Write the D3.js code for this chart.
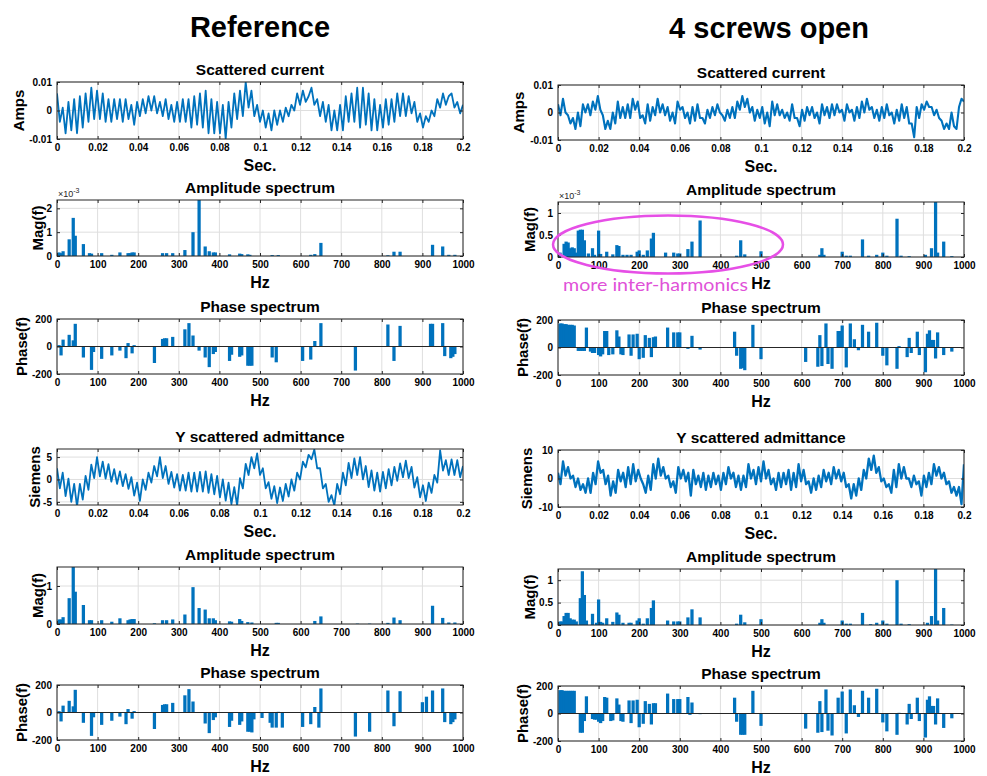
<!doctype html>
<html>
<head>
<meta charset="utf-8">
<style>
  body { margin: 0; background: #fff; }
  svg text { font-family: "Liberation Sans", Arial, sans-serif; font-weight: bold; fill: #000; }
</style>
<script src="https://d3js.org/d3.v7.min.js"></script>
</head>
<body>
<svg width="987" height="776"></svg>
<script>
// ---- tick labels ----
var timeTicks = [0, 0.02, 0.04, 0.06, 0.08, 0.1, 0.12, 0.14, 0.16, 0.18, 0.2];
var hzTicks = [0, 100, 200, 300, 400, 500, 600, 700, 800, 900, 1000];
var ampTicksA = [-0.01, 0, 0.01];
var phaseTicks = [-200, 0, 200];

// ---- time signals (sampled evenly over 0..0.2 s) ----
// scattered current, reference, in mA
var refCurrent = [6,-4,1,-8,3,-7,4,-8,5,-6,6,-4,8,-3,7,-3,6,-4,4,-4,4,-3,4,-4,4,-3,2,-5,3,-2,4,-1,5,0,5,-1,3,-2,4,-3,2,-4,3,-4,4,-4,4,-6,5,-5,6,-6,7,-8,4,-8,3,-8,2,-10,3,-6,6,-3,7,-2,10,1,7,-2,2,-4,0,-6,-1,-7,0,-5,0,-4,1,-2,2,0,6,2,7,3,5,8,2,4,-2,3,-4,2,-7,0,-7,2,-7,5,-4,6,-4,8,-6,8,-5,6,-7,4,-7,2,-6,4,-5,4,-4,6,-2,6,-2,5,-1,3,-4,-1,-6,-2,-4,0,-2,4,1,6,2,5,6,1,3,-1,2];
// scattered current, 4 screws open, in mA
var openCurrent = [3,-1,5,0,-1,-4,-2,-6,0,-5,3,0,3,-1,4,1,6,1,-1,-6,-3,-6,0,-4,4,-2,2,-2,3,-2,5,1,4,-2,-1,-4,3,-3,2,-1,5,0,3,-1,2,-3,0,-4,4,1,2,-2,0,-4,2,-3,3,-2,-2,-4,1,-2,2,-1,3,0,-1,-3,1,-2,2,-2,4,1,6,2,5,0,2,-3,1,-2,2,-4,0,-5,4,-1,3,-1,1,-2,0,-3,3,-2,-2,-5,1,-3,2,-1,2,-2,0,-4,3,-1,2,-2,3,-1,3,0,1,-3,3,0,1,-3,2,-2,4,0,5,1,2,-2,1,-3,2,-2,3,-1,0,-4,1,-3,3,-2,2,-4,-4,-9,2,-2,3,1,4,2,2,-1,1,-2,-3,-6,-4,-6,0,-5,-6,2,5,4];
// Y scattered admittance, reference, Siemens
var refAdmit = [2.5,-2,1.5,-3.7,0.2,-5,-1,-6,-1,-4.5,0.8,-2.3,3.3,0.3,5,0.7,4,0.2,3.4,-0.5,2.3,-1,1.8,-1.5,1.2,-2.1,0.5,-3.6,-0.7,-4.8,0,-2.3,1.5,-0.7,3,0.7,5,0.3,3,-1,1.7,-1.8,1.2,-2.5,1,-2.5,1.5,-2.7,1.5,-2.7,1.7,-2.7,1.8,-3,1.2,-3.3,0.8,-4,0,-4.7,-0.7,-5.5,-1.7,-5.8,0.3,-2,3.5,1,5,2.5,5.8,1,2.5,-2,-0.6,-4.3,-1.5,-5.3,-1.8,-4.8,-1,-3.8,0,-2.5,1.5,0,4,2.7,5.5,4.5,6.7,2.5,2.5,-2,-1,-5,-3.5,-5.8,-1,-3.3,1.5,-1.3,3.7,0.3,4.7,1,5,0,3,-1.7,2,-2.5,1.5,-2.7,1.7,-2,2.3,-1.3,2.8,-0.3,3.6,0.5,4.2,0.3,2.8,-1.8,0.5,-4,-1.3,-4.8,-0.7,-3,1,-0.7,6.5,2,4.3,1,4.5,1,4.3,0.5,3];
// Y scattered admittance, 4 screws open, Siemens
var openAdmit = [2,-2,6,1,4,0,1,-3,0,-4,-2,-5,0,-5,2,-2,6,2,3,-2,1,-6,-1,-5,3,-1,2,-3,4,-2,5,-1,3,0,-2,-5,1,-4,5,0,7,1,4,0,1,-3,-1,-5,4,0,3,-1,2,-6,3,-2,1,-3,2,-4,1,-3,2,-2,1,-4,2,-2,4,0,2,-3,1,-4,1,-3,5,0,3,-2,4,-1,6,0,3,-2,0,-4,2,-3,2,-2,3,-4,2,-3,5,-1,3,-2,-1,-5,0,-4,1,-3,3,-1,2,-2,4,0,3,-1,2,-3,-2,-7,-2,-6,0,-4,3,0,7,3,8,2,4,-1,0,-3,-2,-5,3,-3,5,0,4,0,0,-3,1,-2,-1,-6,1,-3,2,-2,5,1,4,0,2,-2,-1,-5,-3,-6,-3,-9,5];

// ---- spectra: [Hz, value] ----
var refCurAmp = [[5,0.15],[10,0.12],[15,0.2],[30,0.7],[40,1.6],[45,0.85],[65,0.5],[80,0.12],[85,0.1],[110,0.12],[135,0.05],[155,0.15],[175,0.12],[180,0.12],[185,0.15],[190,0.15],[260,0.12],[270,0.12],[285,0.12],[315,0.25],[335,1.0],[350,2.35],[365,0.4],[375,0.2],[385,0.15],[390,0.15],[425,0.07],[450,0.1],[455,0.08],[470,0.07],[475,0.05],[530,0.04],[545,0.04],[625,0.05],[635,0.08],[650,0.55],[815,0.03],[830,0.18],[845,0.18],[925,0.47],[950,0.4],[965,0.05],[980,0.05]];
var refCurPhase = [[5,10],[10,-65],[15,50],[30,85],[40,45],[45,165],[65,-80],[85,-170],[90,-40],[110,-90],[135,-65],[155,-30],[170,-85],[175,25],[185,-50],[190,10],[240,-120],[260,55],[265,60],[270,60],[285,70],[315,125],[325,170],[335,80],[350,-30],[365,-80],[375,-150],[385,-55],[390,-40],[425,-105],[430,-60],[450,-75],[455,-65],[470,-140],[475,-140],[480,-140],[530,-80],[540,-115],[605,-105],[625,-95],[635,40],[650,170],[735,-175],[815,160],[830,-105],[845,150],[920,165],[925,165],[950,170],[955,-70],[970,-85],[975,-75],[980,-55]];
var refAdmAmp = [[5,0.12],[10,0.12],[15,0.18],[30,0.68],[40,1.5],[45,0.85],[65,0.5],[80,0.1],[85,0.1],[110,0.1],[135,0.06],[155,0.15],[175,0.1],[180,0.12],[185,0.13],[190,0.13],[240,0.02],[260,0.1],[270,0.1],[285,0.12],[315,0.25],[335,0.97],[350,0.42],[365,0.38],[375,0.15],[385,0.15],[390,0.1],[425,0.07],[430,0.06],[450,0.13],[455,0.08],[470,0.05],[480,0.04],[540,0.03],[545,0.03],[635,0.08],[650,0.2],[740,0.01],[770,0.01],[815,0.03],[830,0.17],[845,0.1],[925,0.48],[950,0.16],[965,0.04],[980,0.04]];
var refAdmPhase = [[5,10],[10,-65],[15,50],[30,85],[40,45],[45,165],[65,-75],[85,-170],[90,-35],[110,-90],[135,-60],[155,-30],[170,-85],[175,25],[185,-45],[190,10],[240,-120],[260,55],[265,60],[270,60],[285,70],[315,125],[325,170],[335,80],[365,-80],[375,-150],[385,-55],[390,-35],[425,-105],[430,-60],[450,-90],[455,-65],[470,-140],[475,-140],[480,-145],[485,-50],[505,-40],[525,-75],[530,-110],[540,-110],[545,5],[555,-110],[605,-105],[625,-85],[635,40],[645,-110],[650,175],[735,-175],[770,-140],[815,160],[830,-100],[845,155],[900,75],[910,115],[925,160],[950,175],[955,-70],[970,-85],[975,-70],[980,-50]];
var openCurAmp = [[5,0.1],[15,0.3],[20,0.35],[25,0.33],[30,0.2],[35,0.22],[40,0.2],[45,0.1],[50,0.6],[55,0.62],[60,0.62],[65,0.38],[75,0.08],[85,0.2],[90,0.05],[100,0.6],[105,0.07],[120,0.12],[135,0.06],[145,0.27],[150,0.25],[160,0.05],[170,0.05],[180,0.05],[195,0.12],[200,0.15],[210,0.05],[220,0.15],[230,0.42],[235,0.55],[265,0.1],[285,0.1],[295,0.08],[300,0.08],[320,0.18],[330,0.35],[350,0.83],[440,0.03],[450,0.38],[460,0.06],[500,0.13],[645,0.05],[650,0.2],[655,0.05],[700,0.12],[710,0.03],[720,0.03],[750,0.4],[765,0.03],[785,0.05],[800,0.1],[810,0.03],[835,0.87],[845,0.03],[865,0.02],[905,0.05],[920,0.2],[930,1.25],[935,0.1],[950,0.35],[970,0.02]];
var openCurPhase = [[5,175],[10,175],[15,170],[20,170],[25,165],[30,165],[35,165],[40,160],[50,-25],[55,-25],[60,-25],[65,-25],[70,145],[80,-30],[85,-40],[90,-40],[100,-55],[105,-65],[110,-50],[115,120],[120,120],[125,-55],[135,-50],[145,125],[150,80],[155,-50],[160,-55],[175,95],[180,-60],[185,95],[195,100],[200,-85],[210,-75],[215,90],[225,70],[230,-70],[235,75],[240,80],[270,145],[285,110],[295,110],[300,110],[320,-10],[330,85],[350,-15],[435,115],[440,-60],[450,-155],[455,-150],[460,-165],[480,165],[500,-85],[610,-105],[640,-140],[645,90],[650,-135],[660,175],[665,-120],[675,-155],[690,120],[695,120],[700,160],[710,-145],[720,175],[730,60],[740,-20],[750,165],[765,115],[785,180],[800,-60],[810,-130],[835,-155],[840,10],[860,-70],[865,70],[870,-40],[885,115],[890,-55],[905,-180],[910,100],[915,125],[920,55],[925,55],[930,-80],[935,110],[950,-55],[970,-30]];
var openAdmAmp = [[5,0.08],[10,0.08],[15,0.2],[20,0.27],[25,0.27],[30,0.15],[35,0.12],[40,0.12],[45,0.08],[55,0.6],[60,1.2],[65,0.67],[70,0.1],[85,0.25],[95,0.05],[100,0.57],[105,0.07],[110,0.05],[120,0.15],[135,0.07],[145,0.28],[150,0.23],[160,0.05],[175,0.05],[180,0.05],[195,0.1],[200,0.15],[210,0.03],[220,0.15],[230,0.38],[235,0.55],[270,0.1],[285,0.08],[295,0.08],[300,0.08],[320,0.17],[330,0.35],[350,0.17],[440,0.03],[450,0.23],[460,0.06],[500,0.13],[645,0.05],[650,0.13],[655,0.05],[700,0.1],[710,0.03],[720,0.03],[750,0.27],[770,0.02],[785,0.05],[800,0.1],[810,0.03],[835,1.0],[845,0.03],[865,0.02],[910,0.05],[920,0.2],[930,1.25],[935,0.1],[950,0.38],[970,0.01]];
var openAdmPhase = [[5,170],[10,170],[15,165],[20,165],[25,165],[30,165],[35,165],[40,165],[55,-140],[60,-140],[65,-55],[70,125],[85,-40],[90,-45],[95,-45],[100,-60],[105,-70],[110,-55],[115,120],[120,115],[130,-55],[135,-50],[145,110],[150,65],[155,-55],[160,-60],[175,95],[180,-70],[185,95],[195,100],[200,-100],[210,-75],[215,90],[225,70],[230,-80],[235,75],[240,75],[270,145],[285,105],[295,105],[300,105],[320,120],[325,-10],[330,80],[350,-5],[435,115],[440,-60],[450,-155],[455,-155],[460,-155],[480,165],[500,-90],[610,-110],[640,-140],[645,90],[650,-135],[660,175],[665,-125],[675,-160],[690,115],[700,160],[710,-145],[720,175],[730,60],[740,-25],[750,165],[765,115],[785,180],[800,-65],[810,-130],[835,-155],[840,5],[860,-80],[865,70],[870,-40],[885,115],[890,-55],[905,-175],[910,100],[915,125],[920,55],[925,55],[930,-80],[935,110],[950,-105],[970,-35]];

var svg = d3.select("svg");
var blue = "#0072bd";
var left = [57, 463], right = [558, 964];

// matlab style labels, plain hyphen for minus
function fmt(d) { return String(d); }

var panels = [
  {col: left,  y0: 82,  y1: 139, type: "line", data: refCurrent, mult: 1e-3, lw: 1.8, xdom: [0, 0.2], xt: timeTicks, ydom: [-0.01, 0.01], yt: ampTicksA, title: "Scattered current", xl: "Sec.", yl: "Amps", ylx: -38},
  {col: left,  y0: 200, y1: 256, type: "bar", data: refCurAmp, xdom: [0, 1000], xt: hzTicks, ydom: [0, 2.35], yt: [0, 1, 2], title: "Amplitude spectrum", xl: "Hz", yl: "Mag(f)", ylx: -19, exp: true},
  {col: left,  y0: 319, y1: 374, type: "bar", data: refCurPhase, xdom: [0, 1000], xt: hzTicks, ydom: [-200, 200], yt: phaseTicks, title: "Phase spectrum", xl: "Hz", yl: "Phase(f)", ylx: -35},
  {col: left,  y0: 449, y1: 505, type: "line", data: refAdmit, mult: 1, lw: 1.8, xdom: [0, 0.2], xt: timeTicks, ydom: [-5.7, 6.8], yt: [-5, 0, 5], title: "Y scattered admittance", xl: "Sec.", yl: "Siemens", ylx: -22},
  {col: left,  y0: 567, y1: 624, type: "bar", data: refAdmAmp, xdom: [0, 1000], xt: hzTicks, ydom: [0, 1.5], yt: [0, 1], title: "Amplitude spectrum", xl: "Hz", yl: "Mag(f)", ylx: -19},
  {col: left,  y0: 685, y1: 740, type: "bar", data: refAdmPhase, xdom: [0, 1000], xt: hzTicks, ydom: [-200, 200], yt: phaseTicks, title: "Phase spectrum", xl: "Hz", yl: "Phase(f)", ylx: -35},
  {col: right, y0: 85,  y1: 140, type: "line", data: openCurrent, mult: 1e-3, lw: 2.1, xdom: [0, 0.2], xt: timeTicks, ydom: [-0.01, 0.01], yt: ampTicksA, title: "Scattered current", xl: "Sec.", yl: "Amps", ylx: -39},
  {col: right, y0: 202, y1: 257, type: "bar", data: openCurAmp, xdom: [0, 1000], xt: hzTicks, ydom: [0, 1.25], yt: [0, 0.5, 1], title: "Amplitude spectrum", xl: "Hz", yl: "Mag(f)", ylx: -28, exp: true},
  {col: right, y0: 320, y1: 375, type: "bar", data: openCurPhase, xdom: [0, 1000], xt: hzTicks, ydom: [-200, 200], yt: phaseTicks, title: "Phase spectrum", xl: "Hz", yl: "Phase(f)", ylx: -35},
  {col: right, y0: 450, y1: 507, type: "line", data: openAdmit, mult: 1, lw: 2.3, xdom: [0, 0.2], xt: timeTicks, ydom: [-10, 10], yt: [-10, 0, 10], title: "Y scattered admittance", xl: "Sec.", yl: "Siemens", ylx: -31},
  {col: right, y0: 569, y1: 625, type: "bar", data: openAdmAmp, xdom: [0, 1000], xt: hzTicks, ydom: [0, 1.25], yt: [0, 0.5, 1], title: "Amplitude spectrum", xl: "Hz", yl: "Mag(f)", ylx: -28},
  {col: right, y0: 686, y1: 741, type: "bar", data: openAdmPhase, xdom: [0, 1000], xt: hzTicks, ydom: [-200, 200], yt: phaseTicks, title: "Phase spectrum", xl: "Hz", yl: "Phase(f)", ylx: -35}
];

panels.forEach(function(p, i) {
  var x0 = p.col[0], x1 = p.col[1];
  var x = d3.scaleLinear().domain(p.xdom).range([x0, x1]);
  var y = d3.scaleLinear().domain(p.ydom).range([p.y1, p.y0]);
  var g = svg.append("g");

  g.append("clipPath").attr("id", "clip" + i)
   .append("rect").attr("x", x0).attr("y", p.y0).attr("width", x1 - x0).attr("height", p.y1 - p.y0);

  // grid
  g.append("g").selectAll("line").data(p.xt).enter().append("line")
   .attr("x1", d => x(d)).attr("x2", d => x(d)).attr("y1", p.y0).attr("y2", p.y1)
   .attr("stroke", "#dedede").attr("stroke-width", 1);
  g.append("g").selectAll("line").data(p.yt).enter().append("line")
   .attr("x1", x0).attr("x2", x1).attr("y1", d => y(d)).attr("y2", d => y(d))
   .attr("stroke", "#dedede").attr("stroke-width", 1);

  var plot = g.append("g").attr("clip-path", "url(#clip" + i + ")");
  if (p.type == "line") {
    var n = p.data.length;
    var line = d3.line()
      .x(function(d, k) { return x(k * p.xdom[1] / (n - 1)); })
      .y(function(d) { return y(d * p.mult); });
    plot.append("path").datum(p.data)
      .attr("d", line).attr("fill", "none")
      .attr("stroke", blue).attr("stroke-width", p.lw).attr("stroke-linejoin", "round");
  } else {
    var bw = x(8) - x(0);
    plot.selectAll("rect").data(p.data).enter().append("rect")
      .attr("x", d => x(d[0]) - bw / 2)
      .attr("width", bw)
      .attr("y", d => y(Math.max(0, d[1])))
      .attr("height", d => Math.abs(y(d[1]) - y(0)))
      .attr("fill", blue);
    if (p.ydom[0] < 0) {
      g.append("line").attr("x1", x0).attr("x2", x1).attr("y1", y(0)).attr("y2", y(0))
       .attr("stroke", "#262626").attr("stroke-width", 1);
    }
  }

  // axes, ticks pointing inward like matlab
  g.append("g").attr("transform", "translate(0," + p.y1 + ")")
    .call(d3.axisBottom(x).tickValues(p.xt).tickFormat(fmt).tickSize(-3).tickPadding(5));
  g.append("g").attr("transform", "translate(" + x0 + ",0)")
    .call(d3.axisLeft(y).tickValues(p.yt).tickFormat(fmt).tickSize(-3).tickPadding(5));
  g.append("g").attr("transform", "translate(0," + p.y0 + ")")
    .call(d3.axisTop(x).tickValues(p.xt).tickFormat("").tickSize(-3));
  g.append("g").attr("transform", "translate(" + x1 + ",0)")
    .call(d3.axisRight(y).tickValues(p.yt).tickFormat("").tickSize(-3));
  g.selectAll(".domain").remove();
  g.selectAll(".tick line").attr("stroke", "#262626");
  g.selectAll(".tick text").attr("font-size", 10).attr("fill", "#262626");

  g.append("rect").attr("x", x0).attr("y", p.y0).attr("width", x1 - x0).attr("height", p.y1 - p.y0)
   .attr("fill", "none").attr("stroke", "#262626").attr("stroke-width", 1);

  g.append("text").attr("x", (x0 + x1) / 2).attr("y", p.y0 - 7)
   .attr("text-anchor", "middle").attr("font-size", 15.5).text(p.title);
  g.append("text").attr("x", (x0 + x1) / 2).attr("y", p.y1 + 32)
   .attr("text-anchor", "middle").attr("font-size", 16).text(p.xl);
  g.append("text")
   .attr("transform", "translate(" + (x0 + p.ylx) + "," + ((p.y0 + p.y1) / 2) + ") rotate(-90)")
   .attr("text-anchor", "middle").attr("dy", "0.35em").attr("font-size", 15).text(p.yl);

  if (p.exp) {
    var e = g.append("text").attr("x", x0 + 1).attr("y", p.y0 - 3)
      .attr("font-size", 9).style("font-weight", "normal").style("fill", "#262626");
    e.append("tspan").text("\u00d710");
    e.append("tspan").attr("dy", -4).attr("font-size", 7).text("-3");
  }
});

// column headings
svg.append("text").attr("x", 260).attr("y", 37).attr("text-anchor", "middle")
   .attr("font-size", 29).text("Reference");
svg.append("text").attr("x", 769).attr("y", 38).attr("text-anchor", "middle")
   .attr("font-size", 29).text("4 screws open");

// annotation
svg.append("ellipse").attr("cx", 668).attr("cy", 244.5).attr("rx", 115).attr("ry", 29)
   .attr("fill", "none").attr("stroke", "#e64fe6").attr("stroke-width", 2.5);
svg.append("text").attr("x", 563).attr("y", 291)
   .style("font-family", "Lato, 'Open Sans', sans-serif").style("font-weight", "normal")
   .attr("font-size", 17).attr("textLength", 185).attr("lengthAdjust", "spacingAndGlyphs")
   .style("fill", "#e052d8").text("more inter-harmonics");
</script>
</body>
</html>
